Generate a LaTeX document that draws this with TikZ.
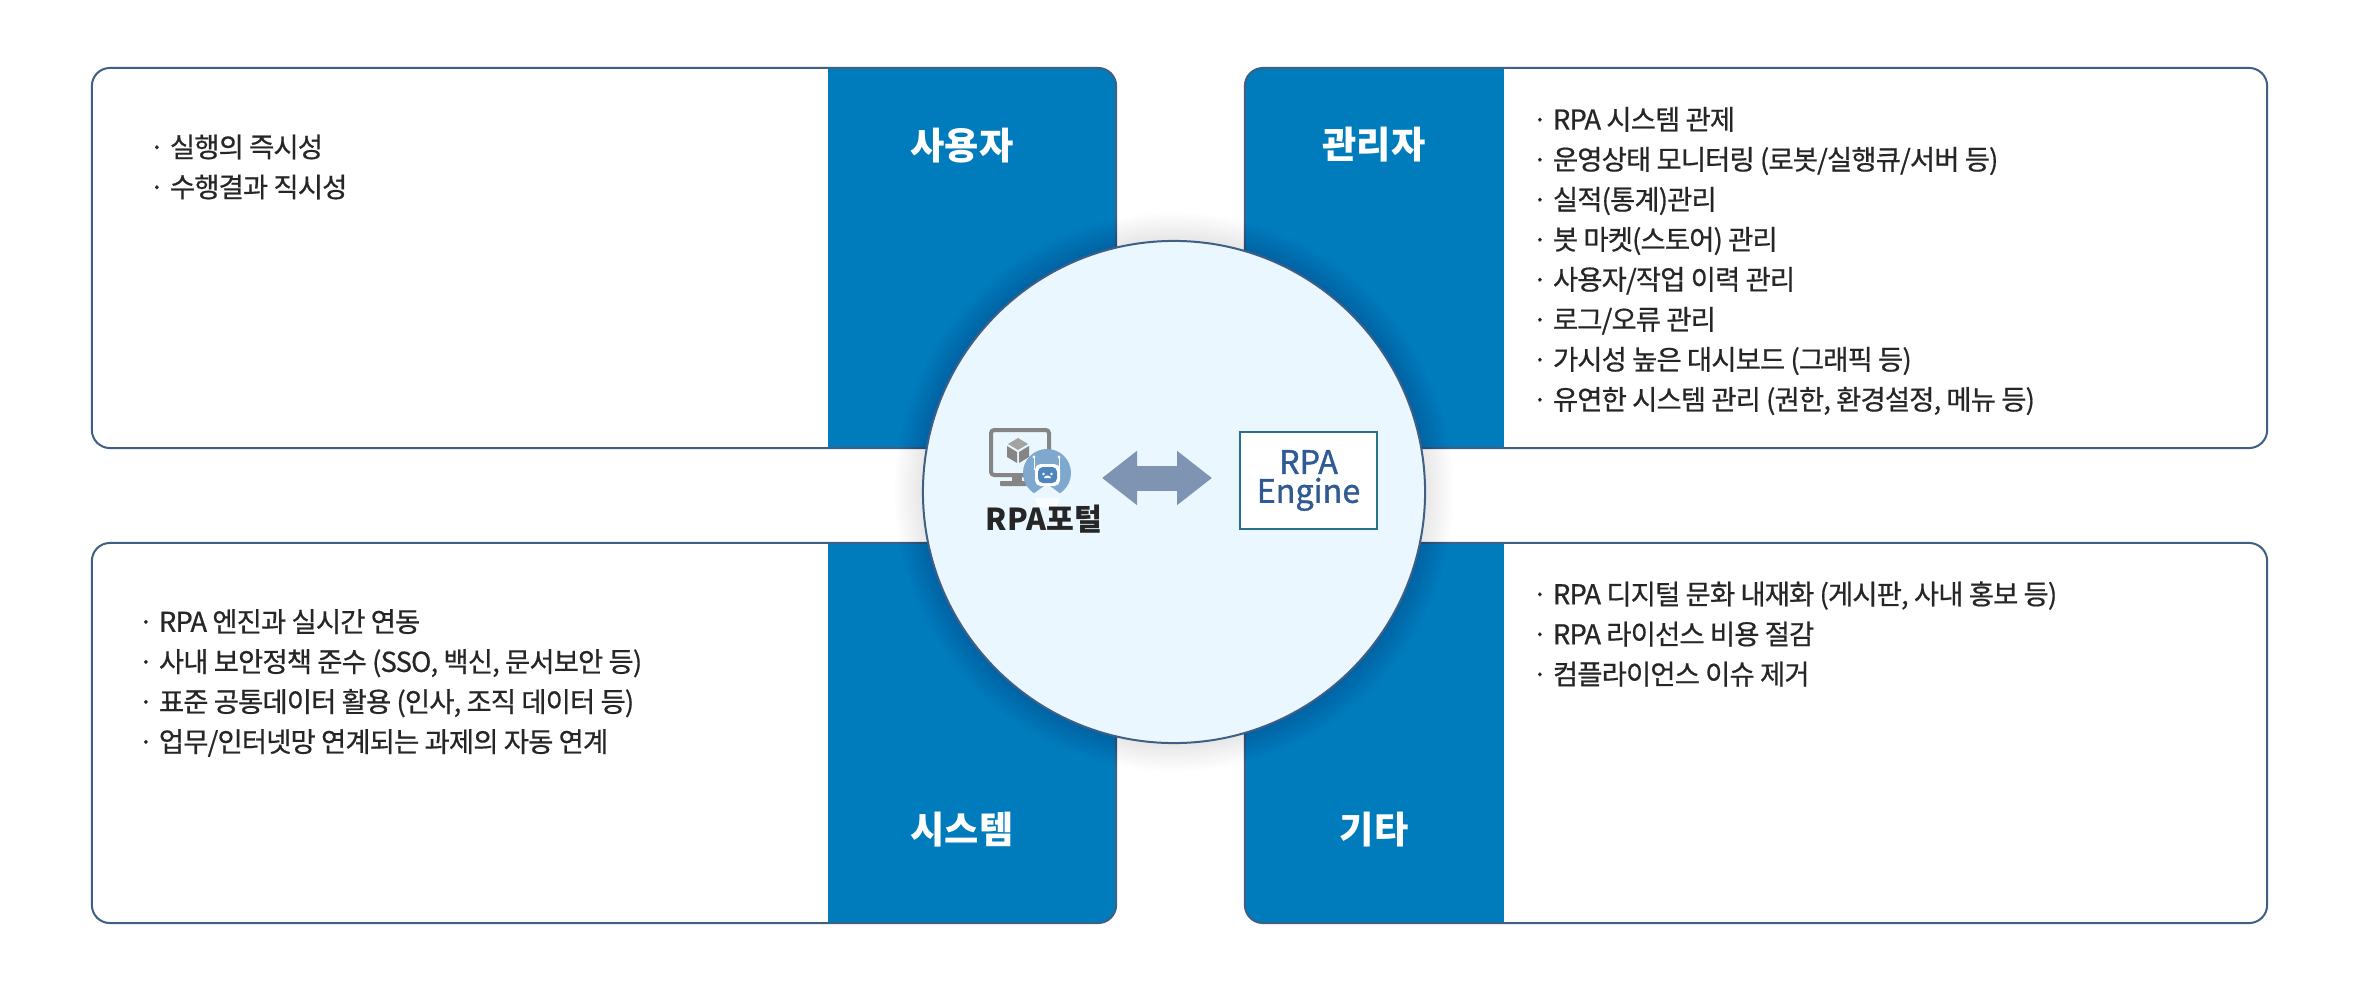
\documentclass[tikz,border=0pt]{standalone}
\usepackage{fontspec}
\usetikzlibrary{arrows.meta}
\setmainfont{Noto Sans CJK KR}
\newfontfamily\listfont[LetterSpace=-3.2,FakeBold=0.6]{Noto Sans CJK KR}
\newfontfamily\mediumfont[FakeBold=1.1]{Noto Sans CJK KR}
\definecolor{tabblue}{HTML}{007BBC}
\definecolor{edgeblue}{HTML}{3F5F85}
\definecolor{hubfill}{HTML}{EAF7FE}
\definecolor{linkblue}{HTML}{7F93B2}
\definecolor{enginetext}{HTML}{2F5A94}
\definecolor{engineedge}{HTML}{2A6F8F}
\definecolor{textdark}{HTML}{262626}
\definecolor{icongray}{HTML}{858585}
\definecolor{robotblue}{HTML}{7FA8CF}
\definecolor{robothead}{HTML}{4F86BC}
\tikzset{
	panel/.style = {draw = edgeblue, line width = 0.05cm, fill = white, rounded corners = 0.45cm, minimum height = 9.5cm, inner sep = 0pt},
	righttab/.style = {panel, minimum width = 25.6cm, path picture = {\fill [tabblue, sharp corners] ([xshift = -7.2cm]path picture bounding box.north east) rectangle (path picture bounding box.south east);}},
	lefttab/.style = {panel, minimum width = 25.55cm, path picture = {\fill [tabblue, sharp corners] (path picture bounding box.north west) rectangle ([xshift = 6.475cm]path picture bounding box.south west);}},
	tabtitle/.style = {text = white, font = \fontsize{26.5pt}{30pt}\selectfont\bfseries},
	itemlist/.style = {anchor = west, align = left, text = textdark, inner sep = 0pt, font = \listfont\fontsize{19.5pt}{28.45pt}\selectfont}
}
\begin{document}
\begin{tikzpicture}[x = 0.025cm, y = -0.025cm]
	\useasboundingbox (0,0) rectangle (2360,1000);
	% four panels
	\node [righttab] (user) at (604,258) {};
	\node [lefttab] (admin) at (1756,258) {};
	\node [righttab] (system) at (604,733) {};
	\node [lefttab] (etc) at (1756,733) {};
	\node [tabtitle] (usertitle) at (962,146) {사용자};
	\node [tabtitle] (admintitle) at (1374,145) {관리자};
	\node [tabtitle] (systemtitle) at (962,830) {시스템};
	\node [tabtitle] (etctitle) at (1374,830) {기타};
	\node [itemlist] (userlist) at (149,167) {· 실행의 즉시성\\· 수행결과 직시성};
	\node [itemlist] (adminlist) at (1532,261) {· RPA 시스템 관제\\· 운영상태 모니터링 (로봇/실행큐/서버 등)\\· 실적(통계)관리\\· 봇 마켓(스토어) 관리\\· 사용자/작업 이력 관리\\· 로그/오류 관리\\· 가시성 높은 대시보드 (그래픽 등)\\· 유연한 시스템 관리 (권한, 환경설정, 메뉴 등)};
	\node [itemlist] (systemlist) at (138,683) {· RPA 엔진과 실시간 연동\\· 사내 보안정책 준수 (SSO, 백신, 문서보안 등)\\· 표준 공통데이터 활용 (인사, 조직 데이터 등)\\· 업무/인터넷망 연계되는 과제의 자동 연계};
	\node [itemlist] (etclist) at (1532,634) {· RPA 디지털 문화 내재화 (게시판, 사내 홍보 등)\\· RPA 라이선스 비용 절감\\· 컴플라이언스 이슈 제거};
	% soft shadow round the hub
	\foreach \r in {0.6,0.9,...,7.2}
		\fill [black, opacity = 0.003] (1174,492) circle (6.275cm + \r mm);
	\node [circle, draw = edgeblue, line width = 0.05cm, fill = hubfill, minimum size = 12.55cm, inner sep = 0pt] (hub) at (1174,492) {};
	% monitor with cube
	\draw [icongray, line width = 0.1cm, rounded corners = 0.08cm] (991,430) rectangle (1049,475);
	\fill [icongray] (1012,475) rectangle (1022,483);
	\fill [icongray, rounded corners = 0.02cm] (1000,481) rectangle (1027,486);
	\fill [icongray!75] (1018,438) -- (1028,444) -- (1018,450) -- (1008,444) -- cycle;
	\fill [icongray] (1007,446) -- (1017,452) -- (1017,463) -- (1007,457) -- cycle;
	\fill [icongray] (1029,446) -- (1019,452) -- (1019,463) -- (1029,457) -- cycle;
	% robot
	\fill [robotblue] (1047,473) circle (0.6cm);
	\fill [hubfill] (1047,484) -- (1025,500) -- (1069,500) -- cycle;
	\draw [white, line width = 0.025cm] (1034,470) -- (1034,458) (1059,470) -- (1059,458);
	\fill [white] (1034,457) circle (0.04cm) (1059,457) circle (0.04cm);
	\fill [white!70!hubfill] (1035,498) arc (180:0:12.5 and 11) -- cycle;
	\fill [white, rounded corners = 0.14cm] (1035,464) rectangle (1060,486);
	\fill [robothead, rounded corners = 0.12cm] (1038,467) rectangle (1057,483);
	\fill [white] (1043.5,474) circle (0.035cm) (1051.5,474) circle (0.035cm);
	\fill [white] (1044,478) arc (180:360:3.5 and 2.5) -- cycle;
	\node [text = textdark, inner sep = 0pt, font = \fontsize{21.5pt}{25pt}\selectfont\bfseries] (portal) at (1044,519) {RPA포털};
	\node [draw = engineedge, line width = 0.05cm, fill = white, minimum width = 3.425cm, minimum height = 2.425cm, align = center, text = enginetext, font = \mediumfont\fontsize{23pt}{20.6pt}\selectfont] (engine) at (1308.5,480.5) {RPA\\Engine};
	% link between portal and engine
	\coordinate (linkleft) at (1102,478);
	\coordinate (linkright) at (1212,478);
	\draw [linkblue, line width = 0.625cm, {Triangle[length = 0.875cm, width = 1.3cm]}-{Triangle[length = 0.875cm, width = 1.3cm]}] (linkleft) -- (linkright);
\end{tikzpicture}
\end{document}
